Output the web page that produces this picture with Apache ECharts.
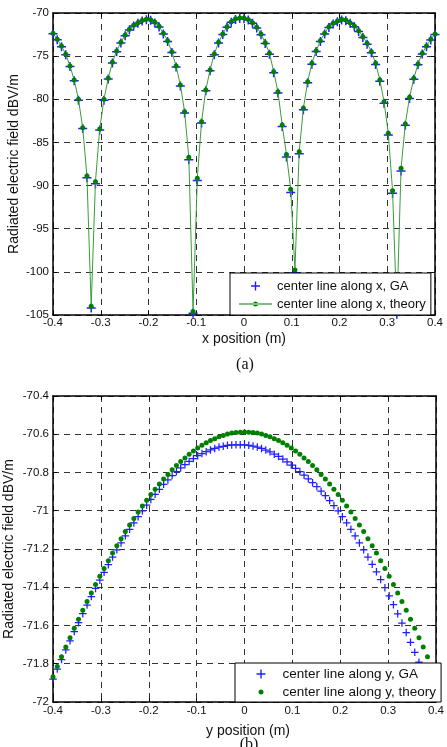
<!DOCTYPE html>
<html>
<head>
<meta charset="utf-8">
<script src="https://cdn.jsdelivr.net/npm/echarts@6/dist/echarts.min.js"></script>
<style>
html, body { margin: 0; padding: 0; background: #fff; }
#chart { width: 447px; height: 747px; }
</style>
</head>
<body>
<div id="chart"></div>
<script>
// sample positions (m), same for both scans
var positions = [
  -0.4, -0.3911, -0.3822, -0.3733, -0.3644, -0.3556, -0.3467, -0.3378, -0.3289, -0.32,
  -0.3111, -0.3022, -0.2933, -0.2844, -0.2756, -0.2667, -0.2578, -0.2489, -0.24, -0.2311,
  -0.2222, -0.2133, -0.2044, -0.1956, -0.1867, -0.1778, -0.1689, -0.16, -0.1511, -0.1422,
  -0.1333, -0.1244, -0.1156, -0.1067, -0.0978, -0.0889, -0.08, -0.0711, -0.0622, -0.0533,
  -0.0444, -0.0356, -0.0267, -0.0178, -0.0089, 0,
  0.0089, 0.0178, 0.0267, 0.0356, 0.0444, 0.0533, 0.0622, 0.0711, 0.08, 0.0889,
  0.0978, 0.1067, 0.1156, 0.1244, 0.1333, 0.1422, 0.1511, 0.16, 0.1689, 0.1778,
  0.1867, 0.1956, 0.2044, 0.2133, 0.2222, 0.2311, 0.24, 0.2489, 0.2578, 0.2667,
  0.2756, 0.2844, 0.2933, 0.3022, 0.3111, 0.32, 0.3289, 0.3378, 0.3467, 0.3556,
  0.3644, 0.3733, 0.3822, 0.3911, 0.4
];

// (a) center line along x
var xGA = [
  -72.40, -73.10, -73.90, -74.85, -76.20, -77.85, -80.10, -83.40, -89.10, -104.2,
  -89.80, -83.55, -80.10, -77.65, -75.80, -74.48, -73.48, -72.63, -71.96, -71.50,
  -71.19, -70.94, -70.78, -70.85, -71.15, -71.62, -72.42, -73.30, -74.58, -76.25,
  -78.45, -81.60, -87.00, -104.8, -89.40, -82.75, -79.02, -76.70, -74.83, -73.48,
  -72.50, -71.65, -71.07, -70.75, -70.64, -70.66,
  -70.82, -71.20, -71.74, -72.52, -73.54, -74.78, -76.92, -79.26, -83.15, -86.70,
  -90.80, -100.1, -86.30, -81.20, -78.08, -75.93, -74.46, -73.30, -72.43, -71.67,
  -71.27, -71.01, -70.81, -70.89, -71.20, -71.60, -72.15, -72.85, -73.62, -74.60,
  -75.96, -77.90, -80.45, -84.15, -90.90, -104.9, -88.30, -83.00, -79.90, -77.68,
  -76.00, -74.76, -73.90, -73.12, -72.50
];
var xTheory = [
  -72.36, -73.05, -73.82, -74.79, -76.14, -77.76, -80.00, -83.29, -88.90, -104.0,
  -89.55, -83.44, -80.00, -77.57, -75.71, -74.40, -73.40, -72.55, -71.89, -71.43,
  -71.12, -70.87, -70.71, -70.78, -71.08, -71.55, -72.35, -73.21, -74.48, -76.14,
  -78.34, -81.44, -86.72, -104.6, -89.16, -82.60, -78.92, -76.61, -74.75, -73.40,
  -72.43, -71.58, -71.00, -70.68, -70.57, -70.59,
  -70.75, -71.12, -71.66, -72.43, -73.44, -74.67, -76.80, -79.12, -82.98, -86.40,
  -90.43, -99.78, -86.07, -81.05, -77.96, -75.83, -74.37, -73.21, -72.35, -71.59,
  -71.19, -70.93, -70.73, -70.81, -71.12, -71.51, -72.05, -72.74, -73.51, -74.48,
  -75.83, -77.76, -80.28, -83.94, -90.60, -104.8, -88.00, -82.86, -79.77, -77.57,
  -75.91, -74.67, -73.82, -73.05, -72.43
];

// (b) center line along y
var yGA = [
  -71.880, -71.828, -71.778, -71.728, -71.680, -71.632, -71.585, -71.538, -71.493, -71.449,
  -71.406, -71.363, -71.322, -71.282, -71.242, -71.204, -71.168, -71.131, -71.097, -71.064,
  -71.031, -71.000, -70.971, -70.941, -70.914, -70.888, -70.862, -70.839, -70.816, -70.796,
  -70.776, -70.759, -70.742, -70.727, -70.712, -70.701, -70.691, -70.682, -70.674, -70.667,
  -70.663, -70.658, -70.656, -70.655, -70.655, -70.655,
  -70.658, -70.662, -70.667, -70.674, -70.683, -70.692, -70.704, -70.716, -70.730, -70.745,
  -70.761, -70.778, -70.795, -70.814, -70.833, -70.853, -70.874, -70.898, -70.921, -70.947,
  -70.973, -71.000, -71.031, -71.063, -71.097, -71.132, -71.168, -71.204, -71.242, -71.280,
  -71.319, -71.360, -71.402, -71.445, -71.491, -71.539, -71.587, -71.637, -71.688, -71.740,
  -71.792, -71.844, -71.897, -71.950, -72.005
];
var yTheory = [
  -71.868, -71.815, -71.764, -71.713, -71.664, -71.615, -71.567, -71.520, -71.474, -71.430,
  -71.386, -71.343, -71.302, -71.261, -71.221, -71.183, -71.146, -71.109, -71.074, -71.040,
  -71.007, -70.975, -70.945, -70.915, -70.887, -70.860, -70.834, -70.810, -70.786, -70.764,
  -70.743, -70.724, -70.705, -70.688, -70.672, -70.658, -70.645, -70.633, -70.623, -70.613,
  -70.606, -70.599, -70.594, -70.591, -70.589, -70.588,
  -70.589, -70.591, -70.594, -70.599, -70.606, -70.613, -70.623, -70.633, -70.645, -70.658,
  -70.672, -70.688, -70.705, -70.724, -70.743, -70.764, -70.786, -70.810, -70.834, -70.860,
  -70.887, -70.915, -70.945, -70.975, -71.007, -71.040, -71.074, -71.109, -71.146, -71.183,
  -71.221, -71.261, -71.302, -71.343, -71.386, -71.430, -71.474, -71.520, -71.567, -71.615,
  -71.664, -71.713, -71.764, -71.815, -71.868
];

var namesTop = ["center line along x, GA", "center line along x, theory"];
var namesBottom = ["center line along y, GA", "center line along y, theory"];

var FONT = '"Liberation Sans", Arial, sans-serif';
var BLUE = "#1f1fff";
var GREEN = "#008000";
var PLUS = "path://M3.75,0h1.5v3.75h3.75v1.5h-3.75v3.75h-1.5v-3.75h-3.75v-1.5h3.75z";
// legend icons (33x14 box, corner moves fix the bounds)
var ICON_PLUS = "path://M0,0M33,14M15.8,2.5h1.4v3.8h3.8v1.4h-3.8v3.8h-1.4v-3.8h-3.8v-1.4h3.8z";
var ICON_LINEDOT = "path://M0,0M33,14M0,6.5h33v1h-33zM14,7a2.5,2.5 0 1,0 5,0a2.5,2.5 0 1,0 -5,0z";
var ICON_DOT = "path://M0,0M33,14M14,7a2.5,2.5 0 1,0 5,0a2.5,2.5 0 1,0 -5,0z";

function pairs(xs, ys) {
  var out = [];
  for (var i = 0; i < xs.length; i++) out.push([xs[i], ys[i]]);
  return out;
}

function xAxisOf(grid, min, max, interval, pos) {
  var main = pos === "bottom";
  return {
    gridIndex: grid, type: "value", position: pos,
    min: min, max: max, interval: interval,
    axisLine: { onZero: false, lineStyle: { color: "#000", width: 1.5 } },
    axisTick: { inside: true, length: 4, lineStyle: { color: "#000" } },
    axisLabel: { show: main, margin: grid === 0 ? 2 : 3, color: "#111", fontSize: 11.5, fontFamily: FONT },
    splitLine: { show: main, lineStyle: { color: "#333", type: [6, 5], width: 1 } }
  };
}

function yAxisOf(grid, min, max, interval, pos) {
  var main = pos === "left";
  return {
    gridIndex: grid, type: "value", position: pos,
    min: min, max: max, interval: interval,
    axisLine: { onZero: false, lineStyle: { color: "#000", width: 1.5 } },
    axisTick: { inside: true, length: 4, lineStyle: { color: "#000" } },
    axisLabel: { show: main, margin: 4, color: "#111", fontSize: 11.5, fontFamily: FONT },
    splitLine: { show: main, lineStyle: { color: "#333", type: [6, 5], width: 1 } }
  };
}

function label(text, x, y, size, family, rot) {
  return {
    type: "text", x: x, y: y, rotation: rot || 0,
    style: {
      text: text, fill: "#111", font: size + "px " + family,
      align: "center", verticalAlign: "middle",
      textAlign: "center", textVerticalAlign: "middle"
    }
  };
}

var chart = echarts.init(document.getElementById("chart"), null, { renderer: "canvas" });

var option = {
  animation: false,
  backgroundColor: "#fff",
  grid: [
    { left: 53, top: 13, width: 382, height: 302 },
    { left: 53, top: 396, width: 391, height: 306 }
  ],
  xAxis: [
    xAxisOf(0, -0.4, 0.4, 0.1, "bottom"),
    xAxisOf(0, -0.4, 0.4, 0.1, "top"),
    xAxisOf(1, -0.4, 0.4, 0.1, "bottom"),
    xAxisOf(1, -0.4, 0.4, 0.1, "top")
  ],
  yAxis: [
    yAxisOf(0, -105, -70, 5, "left"),
    yAxisOf(0, -105, -70, 5, "right"),
    yAxisOf(1, -72, -70.4, 0.2, "left"),
    yAxisOf(1, -72, -70.4, 0.2, "right")
  ],
  legend: [
    {
      data: [
        { name: namesTop[0], icon: ICON_PLUS },
        { name: namesTop[1], icon: ICON_LINEDOT }
      ],
      orient: "vertical", left: 230, top: 273,
      padding: [6, 5, 4, 9], itemGap: 4, itemWidth: 33, itemHeight: 14,
      backgroundColor: "#fff", borderColor: "#000", borderWidth: 1,
      itemStyle: { borderWidth: 0 },
      textStyle: { fontSize: 13, color: "#111", fontFamily: FONT, lineHeight: 14 },
      selectedMode: false
    },
    {
      data: [
        { name: namesBottom[0], icon: ICON_PLUS },
        { name: namesBottom[1], icon: ICON_DOT }
      ],
      orient: "vertical", left: 235, top: 663,
      padding: [4, 5, 3, 9.5], itemGap: 4, itemWidth: 33, itemHeight: 14,
      backgroundColor: "#fff", borderColor: "#000", borderWidth: 1,
      itemStyle: { borderWidth: 0 },
      textStyle: { fontSize: 13.5, color: "#111", fontFamily: FONT, lineHeight: 14 },
      selectedMode: false
    }
  ],
  graphic: [
    label("Radiated electric field dBV/m", 14, 164, 14, FONT, Math.PI / 2),
    label("x position (m)", 244, 339, 14, FONT),
    label("(a)", 245, 365, 16, '"Liberation Serif", serif'),
    label("Radiated electric field dBV/m", 9, 549, 14, FONT, Math.PI / 2),
    label("y position (m)", 248, 731, 14, FONT),
    label("(b)", 249, 745, 16, '"Liberation Serif", serif')
  ],
  series: [
    {
      name: namesTop[0], type: "scatter", xAxisIndex: 0, yAxisIndex: 0,
      symbol: PLUS, symbolSize: 9,
      itemStyle: { color: BLUE, opacity: 1, borderWidth: 0 },
      data: pairs(positions, xGA)
    },
    {
      name: namesTop[1], type: "line", xAxisIndex: 0, yAxisIndex: 0,
      symbol: "circle", symbolSize: 5, showSymbol: true, showAllSymbol: true,
      itemStyle: { color: GREEN, borderWidth: 0 },
      lineStyle: { color: "#3a9c3a", width: 1 },
      data: pairs(positions, xTheory)
    },
    {
      name: namesBottom[0], type: "scatter", xAxisIndex: 2, yAxisIndex: 2,
      symbol: PLUS, symbolSize: 7.5,
      itemStyle: { color: BLUE, opacity: 1, borderWidth: 0 },
      data: pairs(positions, yGA)
    },
    {
      name: namesBottom[1], type: "scatter", xAxisIndex: 2, yAxisIndex: 2,
      symbol: "circle", symbolSize: 5,
      itemStyle: { color: GREEN, opacity: 1, borderWidth: 0 },
      data: pairs(positions, yTheory)
    }
  ]
};

chart.setOption(option);
</script>
</body>
</html>
